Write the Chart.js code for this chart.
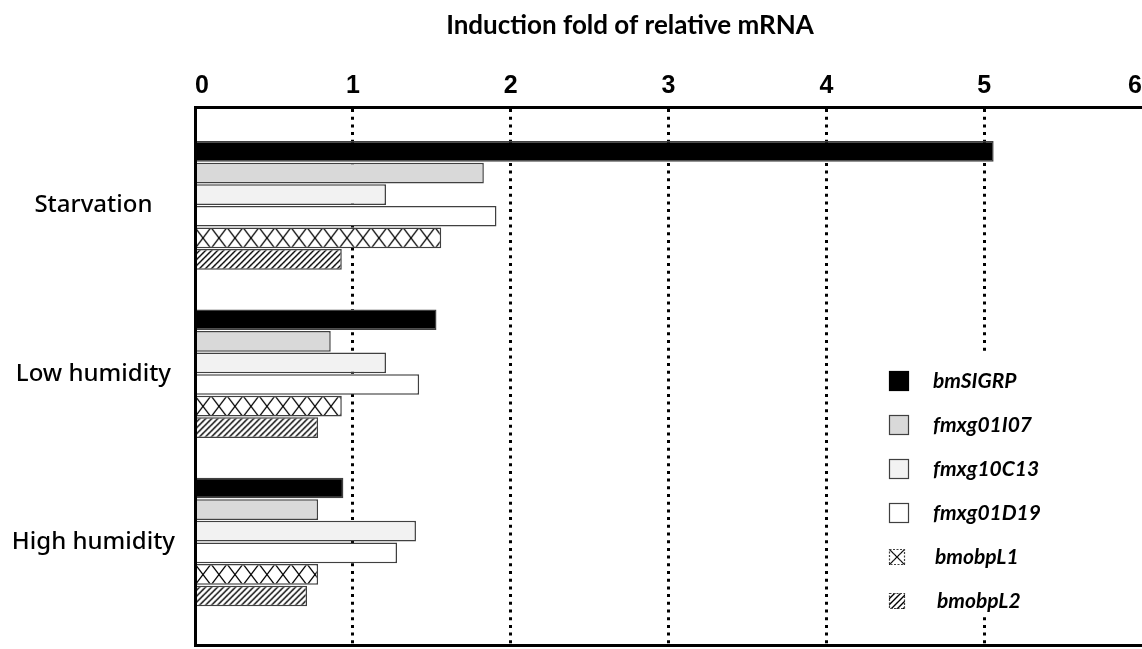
<!DOCTYPE html>
<html>
<head>
<meta charset="utf-8">
<script src="https://cdn.jsdelivr.net/npm/chart.js@4.4.1/dist/chart.umd.min.js"></script>
<style>
  html, body { margin: 0; padding: 0; background: #ffffff; overflow: hidden; }
  #wrap { width: 1142px; height: 649px; position: relative; }
</style>
</head>
<body>
<div id="wrap"><canvas id="chart" width="1142" height="649"></canvas></div>
<script>
// Induction fold of relative mRNA per treatment
const categories = ['Starvation', 'Low humidity', 'High humidity'];
const seriesNames = ['bmSIGRP', 'fmxg01I07', 'fmxg10C13', 'fmxg01D19', 'bmobpL1', 'bmobpL2'];
const bmSIGRP   = [5.06, 1.53, 0.94];
const fmxg01I07 = [1.83, 0.86, 0.78];
const fmxg10C13 = [1.21, 1.21, 1.40];
const fmxg01D19 = [1.91, 1.42, 1.28];
const bmobpL1   = [1.56, 0.93, 0.78];
const bmobpL2   = [0.93, 0.78, 0.71];
const xTickValues = [0, 1, 2, 3, 4, 5, 6];
const titleText = 'Induction fold of relative mRNA';

const seriesValues = [bmSIGRP, fmxg01I07, fmxg10C13, fmxg01D19, bmobpL1, bmobpL2];

const CAT_PCT = 0.77;
const BAR_PCT = 0.958;
const EDGE = '#404040';

// tiles for the two hatched series
function crossTile() {
  const c = document.createElement('canvas');
  c.width = 16; c.height = 21;
  const g = c.getContext('2d');
  g.fillStyle = '#ffffff'; g.fillRect(0, 0, 16, 21);
  g.strokeStyle = '#000000'; g.lineWidth = 1.3;
  g.beginPath();
  g.moveTo(0, 0); g.lineTo(16, 21);
  g.moveTo(16, 0); g.lineTo(0, 21);
  g.stroke();
  return c;
}
function hatchTile() {
  const c = document.createElement('canvas');
  c.width = 6; c.height = 6;
  const g = c.getContext('2d');
  g.fillStyle = '#ffffff'; g.fillRect(0, 0, 6, 6);
  g.strokeStyle = '#000000'; g.lineWidth = 1.4;
  g.beginPath();
  g.moveTo(-1, 7); g.lineTo(7, -1);
  g.moveTo(-1, 1); g.lineTo(1, -1);
  g.moveTo(5, 7); g.lineTo(7, 5);
  g.stroke();
  return c;
}
const tiles = { cross: crossTile(), hatch: hatchTile() };

// top edge of a bar, following the bar controller's own group layout
function barTop(chart, dsIndex, dataIndex) {
  const y = chart.scales.y;
  const step = Math.abs(y.getPixelForValue(1) - y.getPixelForValue(0));
  const size = step * CAT_PCT;
  const chunk = size / seriesNames.length;
  const thick = chunk * BAR_PCT;
  const center = y.getPixelForValue(dataIndex) - size / 2 + chunk * dsIndex + chunk / 2;
  return center - thick / 2;
}

function patternFill(tile) {
  return (ctx) => {
    const chart = ctx.chart;
    if (ctx.dataIndex === undefined || !chart.chartArea) return '#ffffff';
    const p = chart.ctx.createPattern(tile, 'repeat');
    const top = barTop(chart, ctx.datasetIndex, ctx.dataIndex);
    p.setTransform(new DOMMatrix().translate(chart.chartArea.left, top));
    return p;
  };
}

const fills = ['#000000', '#d9d9d9', '#f2f2f2', '#ffffff', patternFill(tiles.cross), patternFill(tiles.hatch)];

const datasets = seriesNames.map((name, k) => ({
  label: name,
  data: seriesValues[k].map((v, i) => ({ x: v, y: i })),
  backgroundColor: fills[k],
  borderColor: EDGE,
  borderWidth: 1.5,
  categoryPercentage: CAT_PCT,
  barPercentage: BAR_PCT
}));

// legend drawn inside the plot on a white panel
const legendPanel = {
  id: 'legendPanel',
  afterDraw(chart) {
    const g = chart.ctx;
    g.save();
    g.fillStyle = '#ffffff';
    g.fillRect(872, 351, 185, 266);
    const rows = [381, 425, 469, 513, 557, 601];
    seriesNames.forEach((name, k) => {
      const cy = rows[k];
      const s = k < 4 ? 20 : 16;
      const bx = 889, by = Math.round(cy - s / 2);
      let fill = fills[k];
      if (k >= 4) {
        const p = g.createPattern(k === 4 ? tiles.cross : tiles.hatch, 'repeat');
        if (k === 4) {
          p.setTransform(new DOMMatrix().translate(bx, by).scale(s / 16, s / 21));
        } else {
          p.setTransform(new DOMMatrix().translate(bx, by));
        }
        fill = p;
      }
      g.fillStyle = fill;
      g.fillRect(bx, by, s, s);
      g.lineWidth = 1.2;
      g.strokeStyle = k === 0 ? '#000000' : EDGE;
      if (k >= 4) g.setLineDash([2, 1.5]);
      g.strokeRect(bx + 0.5, by + 0.5, s - 1, s - 1);
      g.setLineDash([]);
      g.fillStyle = '#000000';
      g.font = 'italic bold 21px Lato';
      g.textBaseline = 'middle';
      g.textAlign = 'left';
      g.fillText(name, k < 4 ? 933 : 935 + (k - 4) * 2, cy);
    });
    g.restore();
  }
};

const titlePlugin = {
  id: 'topTitle',
  afterDraw(chart) {
    const g = chart.ctx;
    g.save();
    g.fillStyle = '#000000';
    g.font = 'bold 26px Lato';
    g.textAlign = 'center';
    g.textBaseline = 'middle';
    g.fillText(titleText, 630, 26);
    g.restore();
  }
};

new Chart(document.getElementById('chart'), {
  type: 'bar',
  data: { datasets },
  options: {
    indexAxis: 'y',
    responsive: false,
    animation: false,
    layout: { padding: 0 },
    plugins: { legend: { display: false }, tooltip: { enabled: false }, title: { display: false } },
    scales: {
      x: {
        type: 'linear',
        position: 'top',
        min: 0,
        max: 6,
        offset: false,
        afterBuildTicks: (s) => { s.ticks = xTickValues.map(v => ({ value: v })); },
        afterFit: (s) => { s.height = 107; s.paddingLeft = 0; s.paddingRight = 0; },
        ticks: {
          font: { family: 'Liberation Sans', size: 25, weight: 'bold' },
          color: '#000000',
          padding: 6,
          align: 'inner',
          maxRotation: 0,
          autoSkip: false
        },
        grid: {
          drawTicks: false,
          lineWidth: 3,
          color: (c) => (c.tick && c.tick.value > 0 && c.tick.value < 6) ? '#000000' : 'rgba(0,0,0,0)'
        },
        border: { display: true, color: '#000000', width: 3, dash: [3, 4.7], z: 1 }
      },
      xb: {
        type: 'linear',
        position: 'bottom',
        min: 0,
        max: 6,
        offset: false,
        ticks: { display: false },
        grid: { display: false, drawTicks: false },
        border: { display: true, color: '#000000', width: 3, z: 1 },
        afterFit: (s) => { s.height = 4; s.paddingLeft = 0; s.paddingRight = 0; }
      },
      y: {
        type: 'linear',
        reverse: true,
        offset: false,
        min: -0.585,
        max: 2.612,
        afterBuildTicks: (s) => { s.ticks = categories.map((_, i) => ({ value: i })); },
        afterFit: (s) => { s.width = 195; s.paddingTop = 0; s.paddingBottom = 0; },
        ticks: {
          callback: (v) => categories[v] ?? '',
          font: { family: 'Noto Sans', size: 24, weight: 500 },
          color: '#000000',
          padding: 20,
          crossAlign: 'center',
          autoSkip: false
        },
        grid: { display: false, drawTicks: false },
        border: { display: true, color: '#000000', width: 3, z: 1 }
      }
    }
  },
  plugins: [legendPanel, titlePlugin]
});
</script>
</body>
</html>
